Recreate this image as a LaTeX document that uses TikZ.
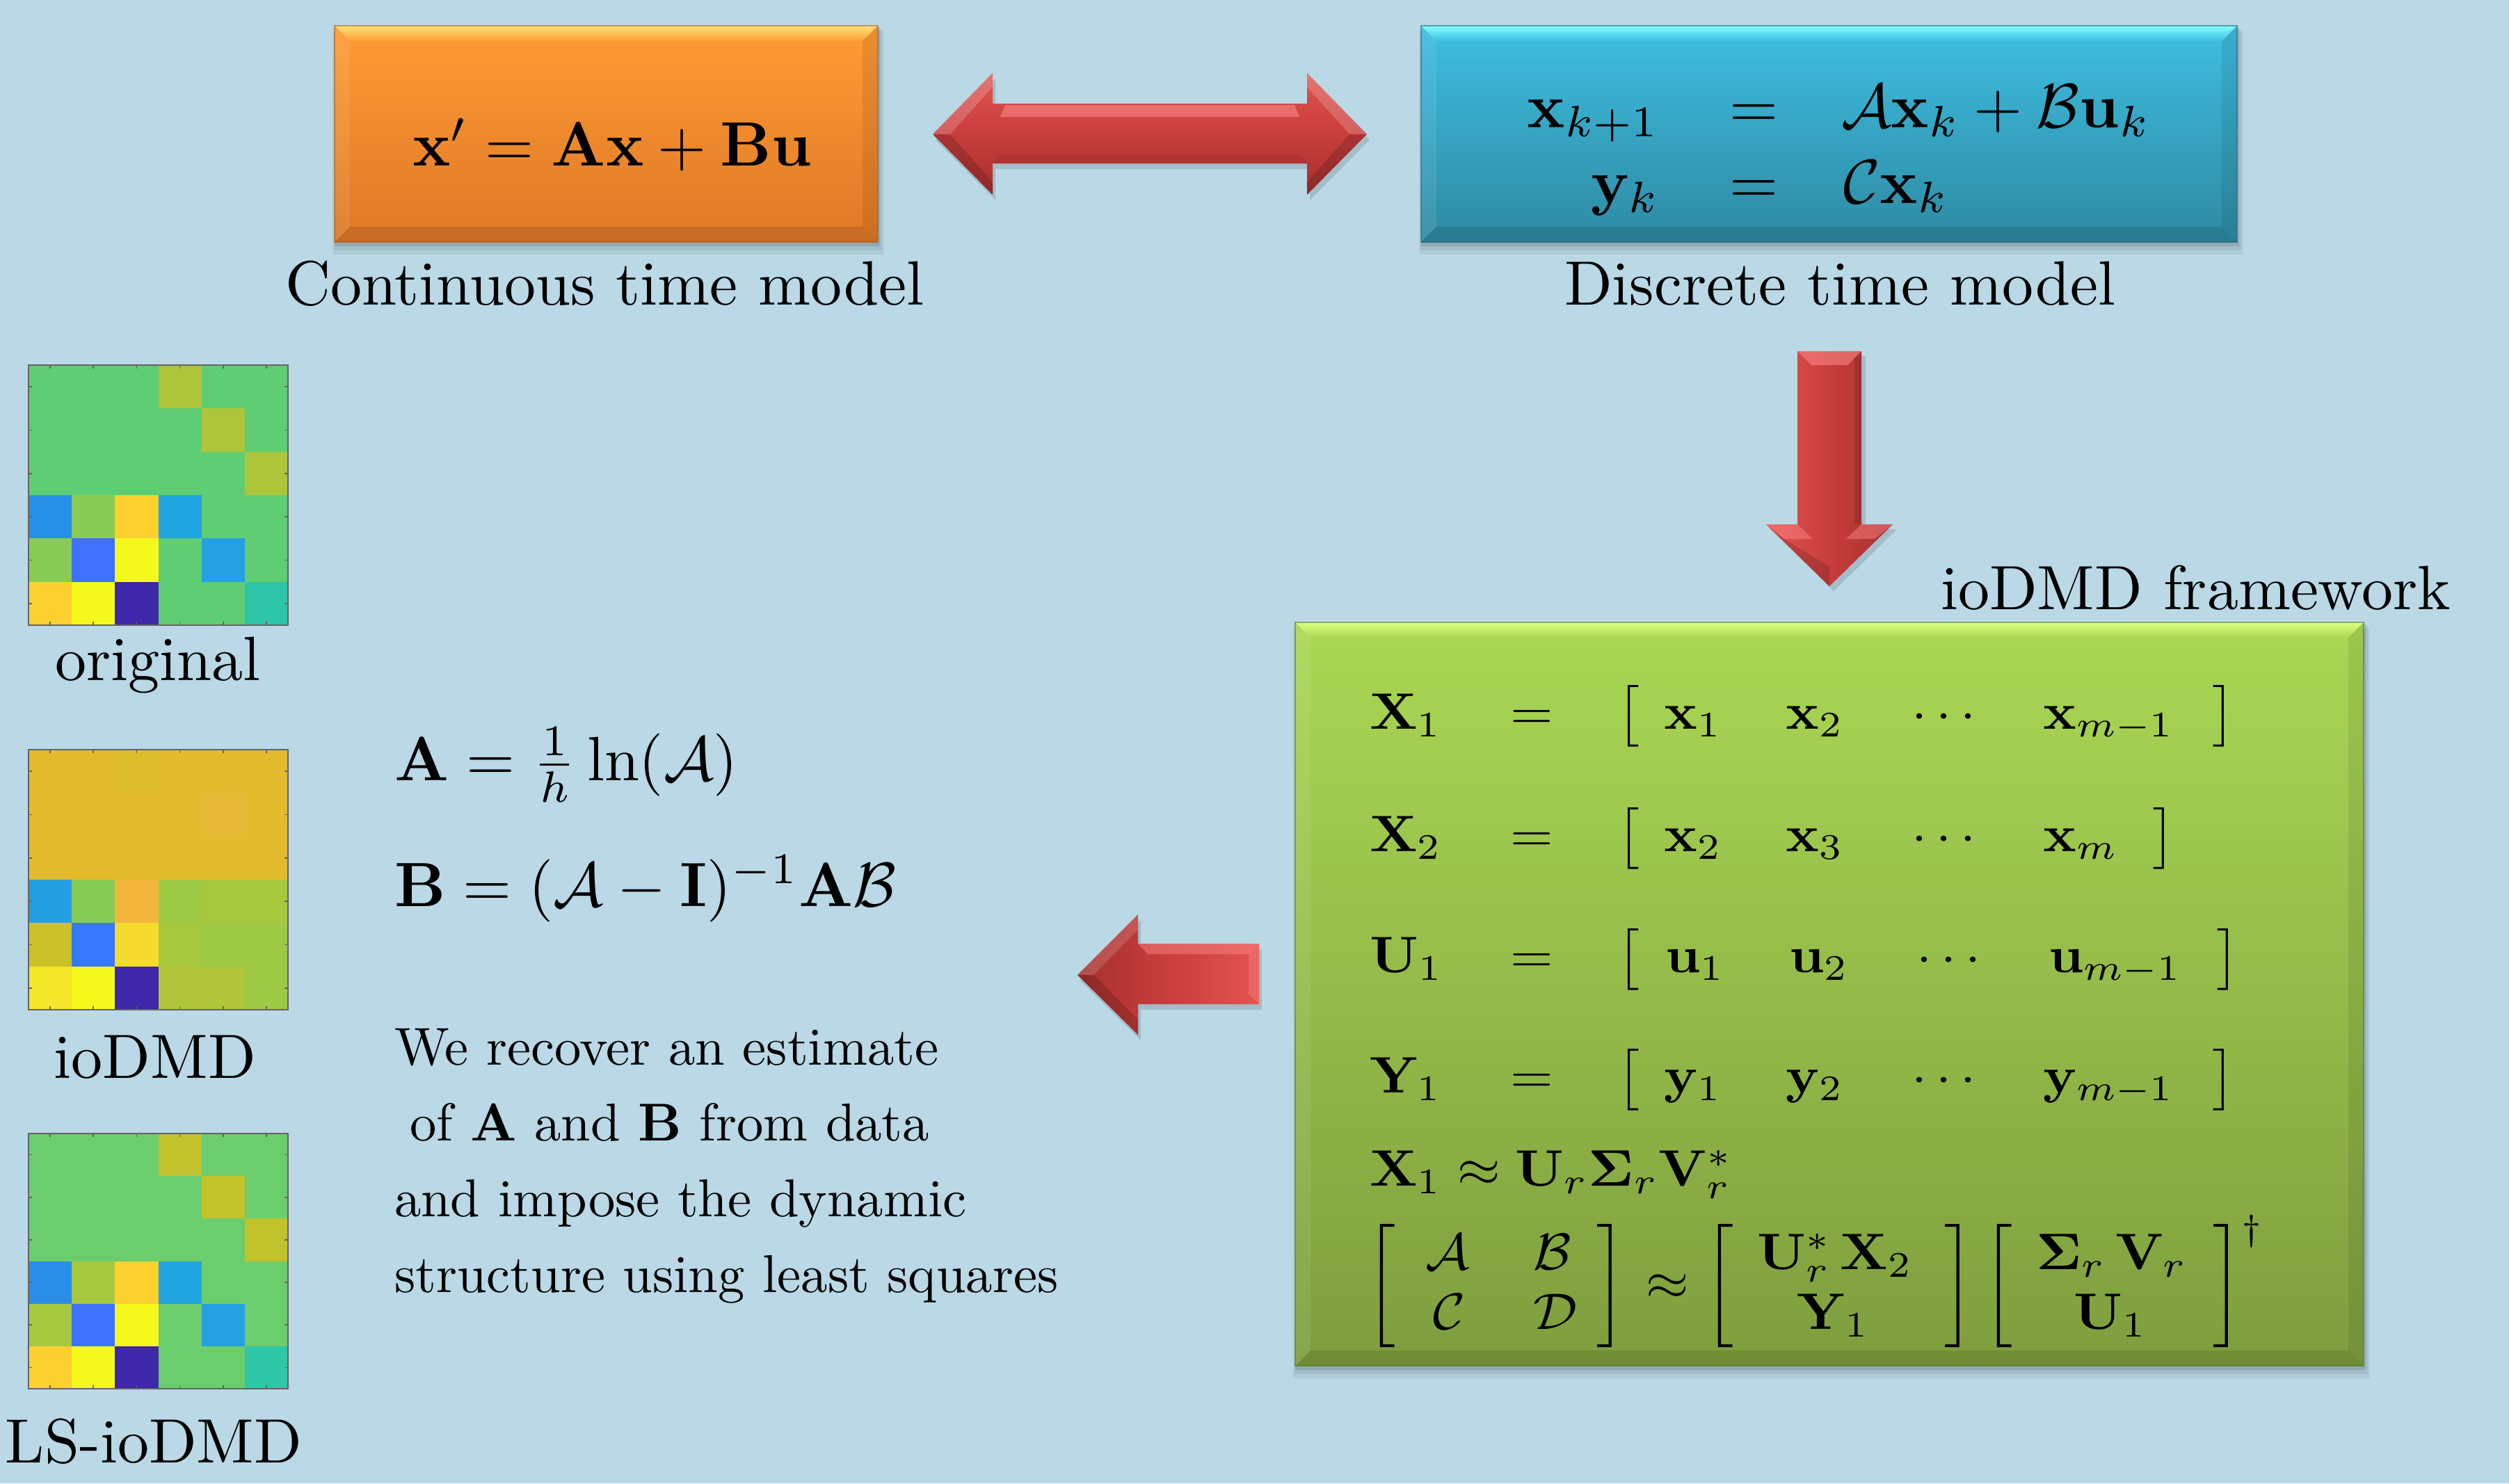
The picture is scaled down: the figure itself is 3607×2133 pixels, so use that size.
\documentclass[tikz,border=0pt]{standalone}
\usepackage{amsmath,amssymb}
\usetikzlibrary{calc}
\definecolor{bgc}{RGB}{186,216,229}
% box colours
\definecolor{orT}{RGB}{254,156,52}
\definecolor{orB}{RGB}{222,120,38}
\definecolor{orL}{RGB}{255,228,120}
\definecolor{orD}{RGB}{170,95,35}
\definecolor{cyT}{RGB}{62,190,226}
\definecolor{cyB}{RGB}{46,138,162}
\definecolor{cyL}{RGB}{130,255,255}
\definecolor{cyD}{RGB}{35,105,125}
\definecolor{grT}{RGB}{170,215,84}
\definecolor{grB}{RGB}{126,158,62}
\definecolor{grL}{RGB}{222,255,130}
\definecolor{grD}{RGB}{95,120,45}
% arrow colours
\definecolor{rdL}{RGB}{226,84,80}
\definecolor{rdM}{RGB}{200,62,60}
\definecolor{rdD}{RGB}{165,48,46}
\definecolor{rdH}{RGB}{255,140,140}
% heat map colours
\definecolor{axc}{RGB}{100,100,100}
\definecolor{gA}{RGB}{95,205,115}
\definecolor{oA}{RGB}{174,196,58}
\definecolor{bA}{RGB}{38,144,232}
\definecolor{lg}{RGB}{136,204,85}
\definecolor{gd}{RGB}{252,209,47}
\definecolor{cb}{RGB}{32,165,224}
\definecolor{bl}{RGB}{64,112,255}
\definecolor{yl}{RGB}{245,249,27}
\definecolor{dp}{RGB}{62,39,168}
\definecolor{cbb}{RGB}{37,160,227}
\definecolor{tl}{RGB}{45,197,168}
\definecolor{am}{RGB}{227,187,45}
\definecolor{amb}{RGB}{222,189,45}
\definecolor{amc}{RGB}{230,186,53}
\definecolor{mA}{RGB}{36,159,226}
\definecolor{mB}{RGB}{134,204,85}
\definecolor{mC}{RGB}{244,181,60}
\definecolor{mD}{RGB}{157,201,69}
\definecolor{mE}{RGB}{167,200,62}
\definecolor{mF}{RGB}{203,194,42}
\definecolor{mG}{RGB}{56,120,255}
\definecolor{mH}{RGB}{245,219,44}
\definecolor{mI}{RGB}{245,231,42}
\definecolor{mJ}{RGB}{176,197,57}
\definecolor{gC}{RGB}{107,205,107}
\definecolor{oC}{RGB}{193,194,44}
\definecolor{nA}{RGB}{42,142,232}
\definecolor{nB}{RGB}{62,115,255}
\definecolor{nC}{RGB}{45,199,165}

\tikzset{
  T/.style={inner sep=0pt, outer sep=0pt, font=\fontsize{10}{12}\selectfont, text=black},
  big/.style={T, scale=2.56},
  mid/.style={T, scale=2.18},
  grn/.style={T, xscale=2.25, yscale=2.1, anchor=base west},
  grc/.style={T, xscale=2.25, yscale=2.1, anchor=base},
}
\newcommand{\twophantom}{\vphantom{\begin{array}{c}\mathbf{X}\\ \mathbf{X}\end{array}}}

\newcommand{\bevelbox}[8]{%
  \fill[black,opacity=.05] (#1-3,#2+8) rectangle (#3+9,#4+18);
  \fill[black,opacity=.07] (#1-1,#2+5) rectangle (#3+6,#4+12);
  \fill[black,opacity=.10] (#1,#2+2) rectangle (#3+3,#4+6);
  \shade[top color=#5,bottom color=#6] (#1,#2) rectangle (#3,#4);
  \shade[top color=#7,bottom color=#5] (#1,#2) -- (#3,#2) -- (#3-22,#2+22) -- (#1+22,#2+22) -- cycle;
  \fill[#8,opacity=.45] (#1,#4) -- (#3,#4) -- (#3-22,#4-22) -- (#1+22,#4-22) -- cycle;
  \fill[white,opacity=.08] (#1,#2) -- (#1+22,#2+22) -- (#1+22,#4-22) -- (#1,#4) -- cycle;
  \fill[black,opacity=.08] (#3,#2) -- (#3-22,#2+22) -- (#3-22,#4-22) -- (#3,#4) -- cycle;
  \draw[#8,opacity=.6,line width=0.4pt] (#1,#2) rectangle (#3,#4);
}

\newcommand{\heatmap}[4]{%
  \foreach \cc [count=\i from 0] in {#4}{%
    \pgfmathtruncatemacro{\hc}{mod(\i,6)}%
    \pgfmathtruncatemacro{\hr}{floor(\i/6)}%
    \fill[\cc] ({#1+\hc*373/6},{#2+\hr*#3/6}) rectangle ++({373/6+0.6},{#3/6+0.6});
  }%
  \draw[axc,line width=0.6pt] (#1,#2) rectangle (#1+373,#2+#3);
  \foreach \k in {0,...,5}{%
    \draw[axc,line width=0.5pt] ({#1+(\k+0.5)*373/6},#2) -- ++(0,5);
    \draw[axc,line width=0.5pt] ({#1+(\k+0.5)*373/6},#2+#3) -- ++(0,-5);
    \draw[axc,line width=0.5pt] (#1,{#2+(\k+0.5)*#3/6}) -- ++(5,0);
    \draw[axc,line width=0.5pt] (#1+373,{#2+(\k+0.5)*#3/6}) -- ++(-5,0);
  }%
}

\begin{document}
\begin{tikzpicture}[x=0.01cm,y=-0.01cm]
\useasboundingbox (0,0) rectangle (3607,2133);
\fill[bgc] (0,0) rectangle (3607,2133);

% ---------- boxes ----------
\bevelbox{481}{37}{1262}{348}{orT}{orB}{orL}{orD}
\bevelbox{2043}{37}{3216}{348}{cyT}{cyB}{cyL}{cyD}
\bevelbox{1862}{895}{3398}{1964}{grT}{grB}{grL}{grD}

% ---------- block arrows ----------
% double arrow
\fill[black,opacity=.12] (1345,201) -- (1431,113) -- (1431,157) -- (1883,157) -- (1883,113) -- (1969,201) -- (1883,288) -- (1883,243) -- (1431,243) -- (1431,288) -- cycle;
\shade[top color=rdL, bottom color=rdD, middle color=rdM]
  (1341,193) -- (1427,105) -- (1427,149) -- (1879,149) -- (1879,105) -- (1965,193)
  -- (1879,280) -- (1879,235) -- (1427,235) -- (1427,280) -- cycle;
\fill[rdH,opacity=.55] (1445,151) -- (1861,151) -- (1868,168) -- (1438,168) -- cycle;
\fill[rdD,opacity=.5] (1438,222) -- (1868,222) -- (1879,235) -- (1427,235) -- cycle;
\fill[white,opacity=.18] (1341,193) -- (1427,105) -- (1427,125) -- (1366,193) -- cycle;
\fill[white,opacity=.18] (1965,193) -- (1879,105) -- (1879,125) -- (1940,193) -- cycle;
\fill[black,opacity=.15] (1341,193) -- (1427,280) -- (1427,262) -- (1366,193) -- cycle;
\fill[black,opacity=.15] (1965,193) -- (1879,280) -- (1879,262) -- (1940,193) -- cycle;

% down arrow
\fill[black,opacity=.12] (2590,512) -- (2682,512) -- (2682,761) -- (2727,761) -- (2636,850) -- (2545,761) -- (2590,761) -- cycle;
\shade[left color=rdL, right color=rdD, middle color=rdM]
  (2584,505) -- (2676,505) -- (2676,754) -- (2721,754) -- (2630,843) -- (2539,754) -- (2584,754) -- cycle;
\fill[rdH,opacity=.55] (2584,505) -- (2676,505) -- (2656,525) -- (2604,525) -- cycle;
\fill[rdH,opacity=.45] (2539,754) -- (2584,754) -- (2606,775) -- (2565,775) -- cycle;
\fill[rdH,opacity=.45] (2721,754) -- (2676,754) -- (2654,775) -- (2695,775) -- cycle;
\fill[black,opacity=.12] (2676,505) -- (2666,515) -- (2666,754) -- (2676,754) -- cycle;
\fill[black,opacity=.15] (2539,754) -- (2630,843) -- (2630,815) -- (2565,775) -- cycle;

% left arrow
\fill[black,opacity=.12] (1553,1410) -- (1640,1323) -- (1640,1365) -- (1814,1365) -- (1814,1452) -- (1640,1452) -- (1640,1496) -- cycle;
\shade[left color=rdD, right color=rdL, middle color=rdM]
  (1549,1402) -- (1636,1315) -- (1636,1357) -- (1810,1357) -- (1810,1444) -- (1636,1444) -- (1636,1488) -- cycle;
\fill[rdH,opacity=.45] (1636,1357) -- (1810,1357) -- (1795,1372) -- (1650,1372) -- cycle;
\fill[rdH,opacity=.35] (1810,1357) -- (1795,1372) -- (1795,1429) -- (1810,1444) -- cycle;
\fill[white,opacity=.15] (1549,1402) -- (1636,1315) -- (1636,1337) -- (1572,1402) -- cycle;
\fill[black,opacity=.15] (1549,1402) -- (1636,1488) -- (1636,1466) -- (1572,1402) -- cycle;

% ---------- top texts ----------
\node[big, anchor=base west] (cteq) at (593,238) {$\mathbf{x}' = \mathbf{A}\mathbf{x} + \mathbf{B}\mathbf{u}$};
\node[big, anchor=base west] (contlbl) at (410,438) {Continuous time model};

\node[big, anchor=base east] (d1l) at (2386,183) {$\mathbf{x}_{k+1}$};
\node[big, anchor=base] (d1e) at (2521,183) {$=$};
\node[big, anchor=base west] (d1r) at (2647,183) {$\mathcal{A}\mathbf{x}_k + \mathcal{B}\mathbf{u}_k$};
\node[big, anchor=base east] (d2l) at (2386,292) {$\mathbf{y}_{k}$};
\node[big, anchor=base] (d2e) at (2521,292) {$=$};
\node[big, anchor=base west] (d2r) at (2650,292) {$\mathcal{C}\mathbf{x}_k$};
\node[big, anchor=base west] (disclbl) at (2249,438) {Discrete time model};

\node[big, anchor=base west] (fwlbl) at (2790,876) {ioDMD framework};

% ---------- green box contents ----------
\node[grn] (r1a) at (1969,1048) {$\mathbf{X}_1$};
\node[grn] (r1b) at (2171,1048) {$=$};
\node[grn] (r1c) at (2324,1048) {$\big[$};
\node[grn] (r1d) at (2392,1048) {$\mathbf{x}_1$};
\node[grn] (r1e) at (2567,1048) {$\mathbf{x}_2$};
\node[grn] (r1f) at (2748,1048) {$\cdots$};
\node[grn] (r1g) at (2937,1048) {$\mathbf{x}_{m-1}$};
\node[grn] (r1h) at (3180,1048) {$\big]$};

\node[grn] (r2a) at (1969,1224) {$\mathbf{X}_2$};
\node[grn] (r2b) at (2171,1224) {$=$};
\node[grn] (r2c) at (2324,1224) {$\big[$};
\node[grn] (r2d) at (2392,1224) {$\mathbf{x}_2$};
\node[grn] (r2e) at (2567,1224) {$\mathbf{x}_3$};
\node[grn] (r2f) at (2748,1224) {$\cdots$};
\node[grn] (r2g) at (2937,1224) {$\mathbf{x}_{m}$};
\node[grn] (r2h) at (3094,1224) {$\big]$};

\node[grn] (r3a) at (1969,1398) {$\mathbf{U}_1$};
\node[grn] (r3b) at (2171,1398) {$=$};
\node[grn] (r3c) at (2324,1398) {$\big[$};
\node[grn] (r3d) at (2394,1398) {$\mathbf{u}_1$};
\node[grn] (r3e) at (2572,1398) {$\mathbf{u}_2$};
\node[grn] (r3f) at (2755,1398) {$\cdots$};
\node[grn] (r3g) at (2945,1398) {$\mathbf{u}_{m-1}$};
\node[grn] (r3h) at (3186,1398) {$\big]$};

\node[grn] (r4a) at (1969,1571) {$\mathbf{Y}_1$};
\node[grn] (r4b) at (2171,1571) {$=$};
\node[grn] (r4c) at (2324,1571) {$\big[$};
\node[grn] (r4d) at (2392,1571) {$\mathbf{y}_1$};
\node[grn] (r4e) at (2567,1571) {$\mathbf{y}_2$};
\node[grn] (r4f) at (2748,1571) {$\cdots$};
\node[grn] (r4g) at (2937,1571) {$\mathbf{y}_{m-1}$};
\node[grn] (r4h) at (3180,1571) {$\big]$};

\node[grn] (svd) at (1969,1705) {$\mathbf{X}_1 \approx \mathbf{U}_r\mathbf{\Sigma}_r\mathbf{V}_r^*$};

% block least-squares formula
\node[grn] (lb1) at (1964,1868) {$\left[\twophantom\right.$};
\node[grn] (mA) at (2049,1825) {$\mathcal{A}$};
\node[grn] (mB) at (2204,1825) {$\mathcal{B}$};
\node[grn] (mC) at (2060,1911) {$\mathcal{C}$};
\node[grn] (mD) at (2204,1911) {$\mathcal{D}$};
\node[grn] (rb1) at (2286,1868) {$\left.\twophantom\right]$};
\node[grn] (apx) at (2366,1868) {$\approx$};
\node[grn] (lb2) at (2450,1868) {$\left[\twophantom\right.$};
\node[grc] (uxa) at (2638,1825) {$\mathbf{U}_r^*\,\mathbf{X}_2$};
\node[grc] (uxb) at (2636,1911) {$\mathbf{Y}_1$};
\node[grn] (rb2) at (2786,1868) {$\left.\twophantom\right]$};
\node[grn] (lb3) at (2851,1868) {$\left[\twophantom\right.$};
\node[grc] (sva) at (3036,1825) {$\mathbf{\Sigma}_r\,\mathbf{V}_r$};
\node[grc] (svb) at (3034,1911) {$\mathbf{U}_1$};
\node[grn] (rb3) at (3172,1868) {$\left.\twophantom\right]$};
\node[grn] (dag) at (3222,1783) {$\scriptstyle\dagger$};

% ---------- left formulas and text ----------
\node[big, anchor=base west] (Aeq) at (567,1122) {$\mathbf{A} = \frac{1}{h}\ln(\mathcal{A})$};
\node[big, anchor=base west] (Beq) at (567,1303) {$\mathbf{B} = (\mathcal{A}-\mathbf{I})^{-1}\mathbf{A}\mathcal{B}$};

\node[mid, anchor=base west] (p1) at (567,1531) {We recover an estimate};
\node[mid, anchor=base west] (p2) at (589,1640) {of $\mathbf{A}$ and $\mathbf{B}$ from data};
\node[mid, anchor=base west] (p3) at (567,1749) {and impose the dynamic};
\node[mid, anchor=base west] (p4) at (567,1858) {structure using least squares};

% ---------- heat maps ----------
\heatmap{41}{525}{374}{gA,gA,gA,oA,gA,gA, gA,gA,gA,gA,oA,gA, gA,gA,gA,gA,gA,oA, bA,lg,gd,cb,gA,gA, lg,bl,yl,gA,cbb,gA, gd,yl,dp,gA,gA,tl}
\heatmap{41}{1078}{374}{am,am,amb,am,am,am, am,am,am,am,amc,am, am,am,am,am,am,am, mA,mB,mC,mD,mE,mE, mF,mG,mH,mE,mD,mD, mI,yl,dp,mJ,mJ,mD}
\heatmap{41}{1630}{367}{gC,gC,gC,oC,gC,gC, gC,gC,gC,gC,oC,gC, gC,gC,gC,gC,gC,oC, nA,mE,gd,cb,gC,gC, mE,nB,yl,gC,cbb,gC, gd,yl,dp,gC,gC,nC}

\node[big, anchor=base] (h1lbl) at (227,978) {original};
\node[big, anchor=base] (h2lbl) at (223,1550) {ioDMD};
\node[big, anchor=base] (h3lbl) at (221,2103) {LS-ioDMD};
\end{tikzpicture}
\end{document}
